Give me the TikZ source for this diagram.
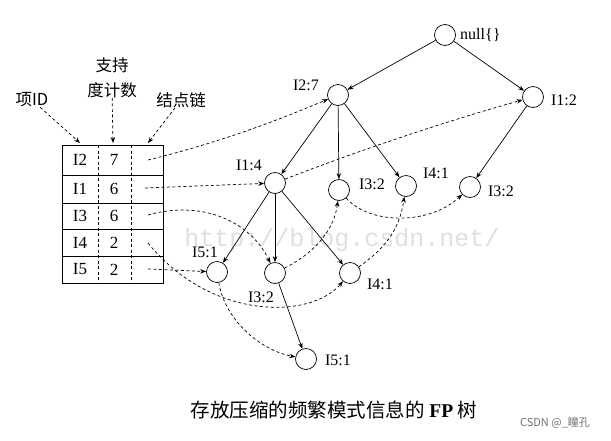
\documentclass[tikz,border=0pt]{standalone}
\usepackage{fontspec}
\setmainfont{Liberation Serif}
\newfontfamily\cjk{Noto Sans CJK SC}
\newfontfamily\wmfont{Liberation Mono}
\newfontfamily\sansf{Liberation Sans}
\usetikzlibrary{arrows.meta}
\begin{document}
\begin{tikzpicture}[x=1pt,y=-1pt,
 nd/.style={circle,draw,line width=0.7pt,minimum size=21pt,inner sep=0pt},
 lab/.style={font=\fontsize{16}{18}\selectfont,inner sep=0pt},
 tree/.style={line width=0.7pt,-{Stealth[length=6pt,width=4.5pt]}},
 link/.style={dash pattern=on 3pt off 2.5pt,line width=0.7pt,-{Stealth[length=6pt,width=4.5pt]}},
 cell/.style={font=\fontsize{17}{19}\selectfont,inner sep=0pt},
 zh/.style={font=\cjk\fontsize{16.5}{18}\selectfont,inner sep=0pt}]
\useasboundingbox (0,0) rectangle (611,440);
\fill[white] (0,0) rectangle (611,440);
% watermark
\node[font=\wmfont\fontsize{25}{27}\selectfont,text=black!12,inner sep=0pt] (wm) at (342,240) {http://blog.csdn.net/};

% header labels
\node[zh] (hid) at (32,100) {项ID};
\node[zh] (hs1) at (112,65) {支持};
\node[zh] (hs2) at (112,90) {度计数};
\node[zh] (hlink) at (181,100) {结点链};

% table
\draw[line width=0.8pt] (62,145) rectangle (163,283);
\foreach \yy in {175,203,229,256} \draw[line width=0.8pt] (62,\yy) -- (163,\yy);
\draw[dash pattern=on 3pt off 2.5pt,line width=0.7pt] (98,145) -- (98,283);
\draw[dash pattern=on 3pt off 2.5pt,line width=0.7pt] (131,145) -- (131,283);
\coordinate (tid) at (80,143);
\coordinate (tsup) at (113,143);
\coordinate (tlnk) at (148,143);
\draw[link] (hid) -- (tid);
\draw[link] (hs2) -- (tsup);
\draw[link] (hlink) -- (tlnk);

\node[cell] (r1a) at (80,160) {I2};   \node[cell] (r1b) at (114,160) {7};
\node[cell] (r2a) at (80,189) {I1};   \node[cell] (r2b) at (114,189) {6};
\node[cell] (r3a) at (80,216) {I3};   \node[cell] (r3b) at (114,216) {6};
\node[cell] (r4a) at (80,242.5) {I4}; \node[cell] (r4b) at (114,242.5) {2};
\node[cell] (r5a) at (80,269.5) {I5}; \node[cell] (r5b) at (114,269.5) {2};
\coordinate (c1) at (148,160);
\coordinate (c2) at (145,188);
\coordinate (c3) at (148,215);
\coordinate (c4) at (148,243);
\coordinate (c5) at (148,269);

% tree nodes
\node[nd] (null) at (445,35) {};
\node[nd] (i27) at (338,95) {};
\node[nd] (i12) at (533,97) {};
\node[nd] (i14) at (275,183) {};
\node[nd] (i32a) at (339,190) {};
\node[nd] (i41a) at (406,186) {};
\node[nd] (i32b) at (470,187) {};
\node[nd] (i51c) at (217,272) {};
\node[nd] (i32c) at (275,273) {};
\node[nd] (i41c) at (350,273) {};
\node[nd] (i51d) at (306,359) {};

% labels
\node[lab,anchor=west] (lnull) at (460,35) {null\{\}};
\node[lab] (l27) at (306,85) {I2:7};
\node[lab] (l12) at (564,100) {I1:2};
\node[lab] (l14) at (249,165) {I1:4};
\node[lab] (l32a) at (372,184) {I3:2};
\node[lab] (l41a) at (436,173) {I4:1};
\node[lab] (l32b) at (501,191) {I3:2};
\node[lab] (l51c) at (205,252) {I5:1};
\node[lab] (l32c) at (261,297) {I3:2};
\node[lab] (l41c) at (380,284) {I4:1};
\node[lab] (l51d) at (338,360) {I5:1};

% tree edges
\draw[tree] (null) -- (i27);
\draw[tree] (null) -- (i12);
\draw[tree] (i27) -- (i14);
\draw[tree] (i27) -- (i32a);
\draw[tree] (i27) -- (i41a);
\draw[tree] (i12) -- (i32b);
\draw[tree] (i14) -- (i51c);
\draw[tree] (i14) -- (i32c);
\draw[tree] (i14) -- (i41c);
\draw[tree] (i32c) -- (i51d);

% node links
\draw[link] (c1) .. controls (230,140) and (290,115) .. (i27);
\draw[link] (c2) -- (i14);
\draw[link] (c3) .. controls (200,200) and (250,220) .. (i32c);
\draw[link] (c4) .. controls (210,320) and (310,320) .. (i41c);
\draw[link] (c5) -- (i51c);
\draw[link] (i51c) .. controls (225,320) and (260,350) .. (i51d);
\draw[link] (i14) .. controls (360,150) and (450,120) .. (i12);
\draw[link] (i32c) .. controls (320,250) and (335,225) .. (i32a);
\draw[link] (i32a) .. controls (370,225) and (430,225) .. (i32b);
\draw[link] (i41c) .. controls (390,245) and (400,225) .. (i41a);

% caption
\node[font=\cjk\fontsize{19.5}{21}\selectfont,inner sep=0pt] (cap) at (334,410) {存放压缩的频繁模式信息的 {\rmfamily\bfseries FP} 树};
\node[font=\cjk\fontsize{11}{13}\selectfont,text=black!55,inner sep=0pt] (csdn) at (555,423) {CSDN @\_瞳孔};
\end{tikzpicture}
\end{document}
